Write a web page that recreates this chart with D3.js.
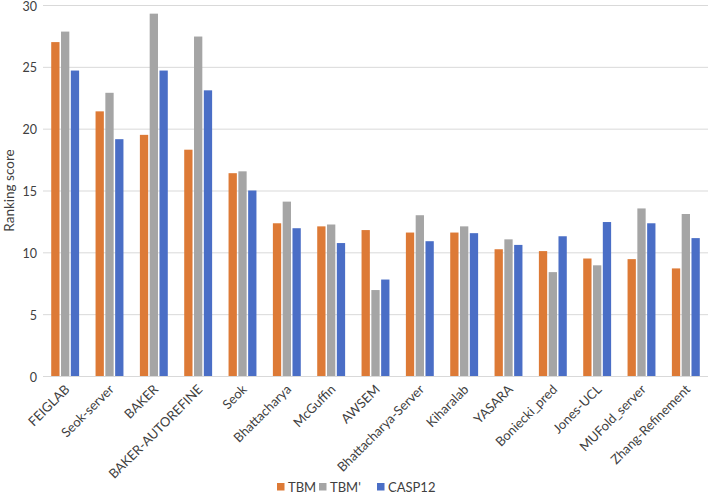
<!DOCTYPE html>
<html><head><meta charset="utf-8">
<script src="https://cdn.jsdelivr.net/npm/d3@7"></script>
<style>body{margin:0;background:#fff}svg{display:block}text{font-family:Lato,"Open Sans",sans-serif;fill:#404040}</style>
</head><body><svg id="c" width="709" height="495"></svg>
<script>
const categories = ["FEIGLAB","Seok-server","BAKER","BAKER-AUTOREFINE","Seok","Bhattacharya","McGuffin","AWSEM","Bhattacharya-Server","Kiharalab","YASARA","Boniecki_pred","Jones-UCL","MUFold_server","Zhang-Refinement"];
const seriesNames = ["TBM","TBM'","CASP12"];
const tbm = [27.0,21.4,19.5,18.3,16.4,12.35,12.1,11.8,11.6,11.6,10.25,10.1,9.5,9.45,8.7];
const tbmPrime = [27.85,22.9,29.3,27.45,16.55,14.1,12.25,6.95,13.0,12.1,11.05,8.4,8.95,13.55,13.1];
const casp12 = [24.7,19.15,24.7,23.1,15.0,11.95,10.75,7.8,10.9,11.55,10.6,11.3,12.45,12.35,11.15];
const yTicks = [0,5,10,15,20,25,30];
const colors = ["#DD7A36","#A5A5A5","#4A6EC6"];

(function(){
const series = [tbm, tbmPrime, casp12];
const svg = d3.select("#c");
const pl = 43, pr = 708, pt = 5, pb = 376;
const x = d3.scaleBand().domain(categories).range([pl, pr]).paddingInner(0).paddingOuter(0);
const y = d3.scaleLinear().domain([0,30]).range([pb, pt]);
const barW = 8.3, gap = 1.5;
const xfs = 13, yfs = 13.5, lfs = 13;

svg.append("g").selectAll("line").data(yTicks).join("line")
  .attr("x1", pl).attr("x2", pr)
  .attr("y1", d => y(d)+0.5).attr("y2", d => y(d)+0.5)
  .attr("stroke", "#D9D9D9").attr("stroke-width", 1);

svg.append("g").selectAll("text").data(yTicks).join("text")
  .attr("x", 37).attr("y", d => y(d)+1).attr("dy", "0.36em")
  .attr("text-anchor", "end").attr("font-size", 12.5).text(d => d);

const inner = d3.scaleBand().domain(seriesNames).range([0, 3*barW + 2*gap]).paddingInner(gap/(barW+gap));
series.forEach((s, si) => {
  svg.append("g").selectAll("rect").data(categories).join("rect")
    .attr("x", d => x(d) + x.bandwidth()/2 - (3*barW+2*gap)/2 + inner(seriesNames[si]))
    .attr("width", inner.bandwidth())
    .attr("y", (d, i) => y(s[i]))
    .attr("height", (d, i) => y(0) - y(s[i]))
    .attr("fill", colors[si]);
});

svg.append("g").selectAll("text").data(categories).join("text")
  .attr("transform", d => `translate(${x(d)+x.bandwidth()/2+2},${pb+11}) rotate(-45)`)
  .attr("text-anchor", "end").attr("dy", "0.35em").attr("font-size", xfs).text(d => d);

svg.append("text").attr("transform", `translate(9,${(pt+pb)/2}) rotate(-90)`)
  .attr("text-anchor", "middle").attr("dy", "0.35em").attr("font-size", yfs).text("Ranking score");

const legX = [277, 319, 377];
const lg = svg.append("g");
seriesNames.forEach((n, i) => {
  lg.append("rect").attr("x", legX[i]).attr("y", 483).attr("width", 7.5).attr("height", 7.5).attr("fill", colors[i]);
  lg.append("text").attr("x", legX[i]+11).attr("y", 487).attr("dy", "0.35em").attr("font-size", lfs).text(n);
});
})();
</script></body></html>
